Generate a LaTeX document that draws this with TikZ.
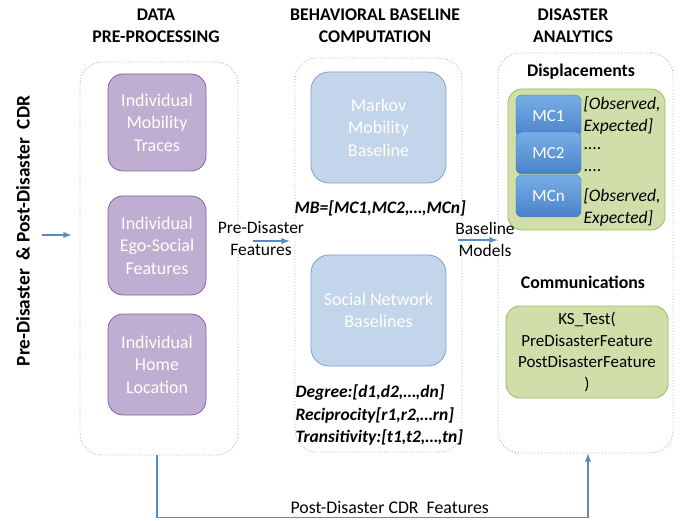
\documentclass[tikz,border=0pt]{standalone}
\usepackage{fontspec}
\setmainfont{Carlito}
\usepackage{xcolor}
\usetikzlibrary{shapes,arrows,positioning}

\definecolor{frameblue}{HTML}{95B3D7}
\definecolor{arrowblue}{HTML}{5A8AC6}
\definecolor{purplefill}{HTML}{BFAED1}
\definecolor{purpleline}{HTML}{8064A2}
\definecolor{basefill}{HTML}{C3D5EB}
\definecolor{baseline}{HTML}{7AA1D2}
\definecolor{greenfill}{HTML}{D0DFA9}
\definecolor{greenline}{HTML}{9BBB59}
\definecolor{mctop}{HTML}{78AEE6}
\definecolor{mcbot}{HTML}{4A82C9}
\definecolor{mcline}{HTML}{4073B4}

\begin{document}
\begin{tikzpicture}[
    x=1pt, y=-1pt,
    frame/.style={rectangle, draw=frameblue, dotted, line width=0.9pt, rounded corners=22pt},
    prebox/.style={rectangle, draw=purpleline, fill=purplefill, rounded corners=15pt, line width=0.8pt, text=white, align=center, minimum width=98pt, font=\fontsize{18}{22.5}\selectfont},
    basebox/.style={rectangle, draw=baseline, fill=basefill, rounded corners=18pt, line width=0.8pt, text=white, align=center, minimum width=135pt, minimum height=111pt, font=\fontsize{18}{22.5}\selectfont},
    greenbox/.style={rectangle, draw=greenline, fill=greenfill, rounded corners=14pt, line width=0.8pt, align=center},
    mcbox/.style={rectangle, draw=mcline, top color=mctop, bottom color=mcbot, rounded corners=6pt, text=white, minimum width=65pt, minimum height=42pt, font=\fontsize{17}{20}\selectfont},
    head/.style={align=center, font=\bfseries\fontsize{17.8}{22}\selectfont},
    lbl/.style={align=center, font=\fontsize{17.5}{22}\selectfont},
    vec/.style={align=left, font=\bfseries\itshape\fontsize{17.5}{22.5}\selectfont},
    arrow/.style={-latex, draw=arrowblue, line width=1.8pt}
]
    \useasboundingbox (0,0) rectangle (685,521);

    % headers
    \node[head] (h1) at (156,26) {DATA\\PRE-PROCESSING};
    \node[head] (h2) at (375,26) {BEHAVIORAL BASELINE\\COMPUTATION};
    \node[head] (h3) at (573,26) {DISASTER\\ANALYTICS};

    \node[rotate=90, font=\bfseries\fontsize{19.3}{22}\selectfont] (cdr) at (23,231) {Pre-Disaster~ \& Post-Disaster~ CDR};

    % containers
    \node[frame, minimum width=158pt, minimum height=393pt] (pre) at (159,258.5) {};
    \node[frame, minimum width=167pt, minimum height=394pt] (base) at (378.5,255) {};
    \node[frame, minimum width=175pt, minimum height=400pt] (ana) at (585.5,253) {};

    % pre-processing
    \node[prebox, minimum height=97pt] (mob) at (157,122.5) {Individual\\Mobility\\Traces};
    \node[prebox, minimum height=99pt] (ego) at (157,245.5) {Individual\\Ego-Social\\Features};
    \node[prebox, minimum height=101pt] (home) at (157,364.5) {Individual\\Home\\Location};

    % baselines
    \node[basebox] (markov) at (378.5,127.5) {Markov\\Mobility\\Baseline};
    \node[basebox] (social) at (378.5,310.5) {Social Network\\Baselines};
    \node[vec, anchor=west] (mb) at (291,208) {MB=[MC1,MC2,…,MCn]};
    \node[vec, anchor=west] (sn) at (292,415) {Degree:[d1,d2,…,dn]\\Reciprocity[r1,r2,…rn]\\Transitivity:[t1,t2,…,tn]};

    % analytics
    \node[font=\bfseries\fontsize{17.8}{20}\selectfont] (disp) at (581,72) {Displacements};
    \node[greenbox, minimum width=157pt, minimum height=141pt] (dbox) at (586.5,159.5) {};
    \node[mcbox] (mc1) at (548.5,116) {MC1};
    \node[mcbox] (mc2) at (548.5,153) {MC2};
    \node[mcbox] (mcn) at (548.5,196) {MCn};
    \node[align=left, anchor=west, font=\itshape\fontsize{17.6}{22}\selectfont] (obs1) at (580,116) {[Observed,\\Expected]};
    \node[align=left, anchor=west, font=\fontsize{17.5}{22}\selectfont] (dots) at (580,160) {....\\....};
    \node[align=left, anchor=west, font=\itshape\fontsize{17.6}{21.5}\selectfont] (obs2) at (580,207.5) {[Observed,\\Expected]};

    \node[font=\bfseries\fontsize{17.8}{20}\selectfont] (comm) at (583,282) {Communications};
    \node[greenbox, minimum width=162pt, minimum height=92pt, font=\fontsize{17}{21.5}\selectfont] (ks) at (587,352) {KS\_Test(\\PreDisasterFeature\\PostDisasterFeature\\)};

    % connectors
    \coordinate (in) at (42,235);
    \draw[arrow, shorten >=8pt] (in) -- (pre.west |- in);
    \node[lbl] (feat) at (261,239) {Pre-Disaster\\Features};
    \draw[arrow, shorten <=15pt, shorten >=5pt] (pre.east |- 0,241) -- (base.west |- 0,241);
    \node[lbl] (models) at (485,239) {Baseline\\Models};
    \draw[arrow, shorten <=-4pt] (base.east |- 0,240) -- (ana.west |- 0,240);
    \draw[arrow] ([xshift=-2pt]pre.south) -- ++(0,62) -| node[above, pos=0.27, lbl, font=\fontsize{17.8}{22}\selectfont] {Post-Disaster CDR~ Features} ([xshift=2.5pt]ana.south);

\end{tikzpicture}
\end{document}
